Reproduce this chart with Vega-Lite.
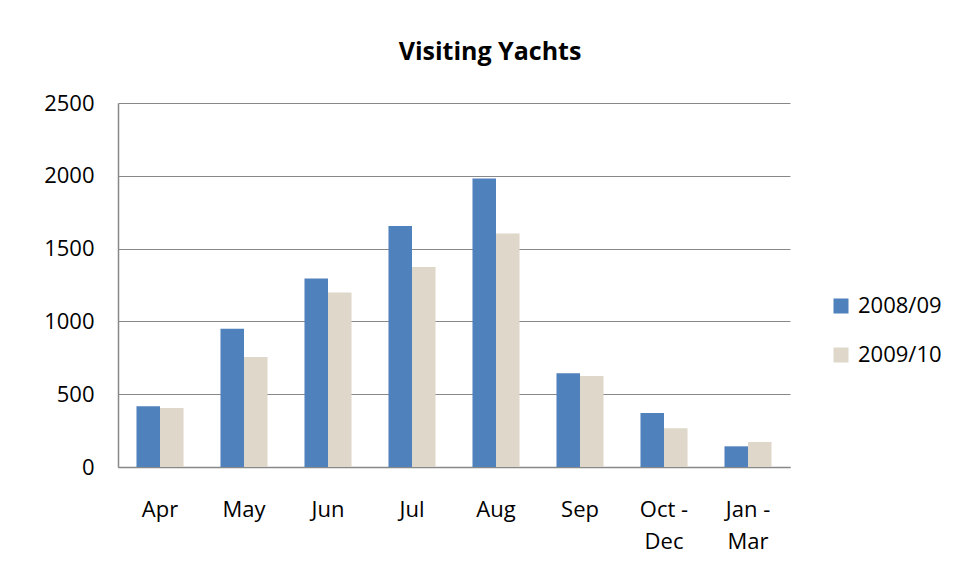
{
  "$schema": "https://vega.github.io/schema/vega-lite/v6.json",
  "autosize": {"type": "none"},
  "width": 672,
  "height": 364,
  "padding": {"left": 118, "top": 103, "right": 169, "bottom": 111},
  "background": "white",
  "title": {
    "text": "Visiting Yachts",
    "font": "Open Sans",
    "fontSize": 25,
    "fontWeight": "bold",
    "color": "#000000",
    "anchor": "middle",
    "frame": "group",
    "dx": 36,
    "offset": 27
  },
  "data": {
    "values": [
      {"period": "Apr", "season": "2008/09", "yachts": 417},
      {"period": "Apr", "season": "2009/10", "yachts": 405},
      {"period": "May", "season": "2008/09", "yachts": 950},
      {"period": "May", "season": "2009/10", "yachts": 755},
      {"period": "Jun", "season": "2008/09", "yachts": 1294},
      {"period": "Jun", "season": "2009/10", "yachts": 1198},
      {"period": "Jul", "season": "2008/09", "yachts": 1655},
      {"period": "Jul", "season": "2009/10", "yachts": 1374},
      {"period": "Aug", "season": "2008/09", "yachts": 1981},
      {"period": "Aug", "season": "2009/10", "yachts": 1603},
      {"period": "Sep", "season": "2008/09", "yachts": 644},
      {"period": "Sep", "season": "2009/10", "yachts": 625},
      {"period": "Oct - Dec", "season": "2008/09", "yachts": 371},
      {"period": "Oct - Dec", "season": "2009/10", "yachts": 266},
      {"period": "Jan - Mar", "season": "2008/09", "yachts": 142},
      {"period": "Jan - Mar", "season": "2009/10", "yachts": 172}
    ]
  },
  "mark": {"type": "bar"},
  "encoding": {
    "x": {
      "field": "period",
      "type": "nominal",
      "sort": null,
      "scale": {"paddingInner": 0.44, "paddingOuter": 0.22},
      "axis": {
        "title": null,
        "labelAngle": 0,
        "labelFont": "Open Sans",
        "labelFontSize": 22,
        "labelColor": "#000000",
        "labelPadding": 32,
        "labelLineHeight": 32,
        "labelExpr": "length(split(datum.label, ' - ')) > 1 ? [split(datum.label, ' - ')[0] + ' -', split(datum.label, ' - ')[1]] : datum.label",
        "ticks": false,
        "domainColor": "#888888",
        "domainWidth": 1.5,
        "grid": false
      }
    },
    "xOffset": {"field": "season", "type": "nominal", "scale": {"paddingInner": 0, "paddingOuter": 0}},
    "y": {
      "field": "yachts",
      "type": "quantitative",
      "scale": {"domain": [0, 2500], "nice": false},
      "axis": {
        "title": null,
        "values": [0, 500, 1000, 1500, 2000, 2500],
        "format": "d",
        "labelFont": "Open Sans",
        "labelFontSize": 22,
        "labelColor": "#000000",
        "labelPadding": 24,
        "ticks": false,
        "domainColor": "#888888",
        "domainWidth": 1.5,
        "gridColor": "#888888",
        "gridWidth": 1.2
      }
    },
    "color": {
      "field": "season",
      "type": "nominal",
      "scale": {"domain": ["2008/09", "2009/10"], "range": ["#4F81BD", "#DFD7CA"]},
      "legend": {
        "title": null,
        "orient": "none",
        "legendX": 712,
        "legendY": 192,
        "symbolType": "square",
        "symbolSize": 225,
        "symbolStrokeWidth": 0,
        "labelFont": "Open Sans",
        "labelFontSize": 22,
        "labelColor": "#000000",
        "labelOffset": 6,
        "rowPadding": 27
      }
    }
  },
  "config": {"view": {"stroke": null}}
}
